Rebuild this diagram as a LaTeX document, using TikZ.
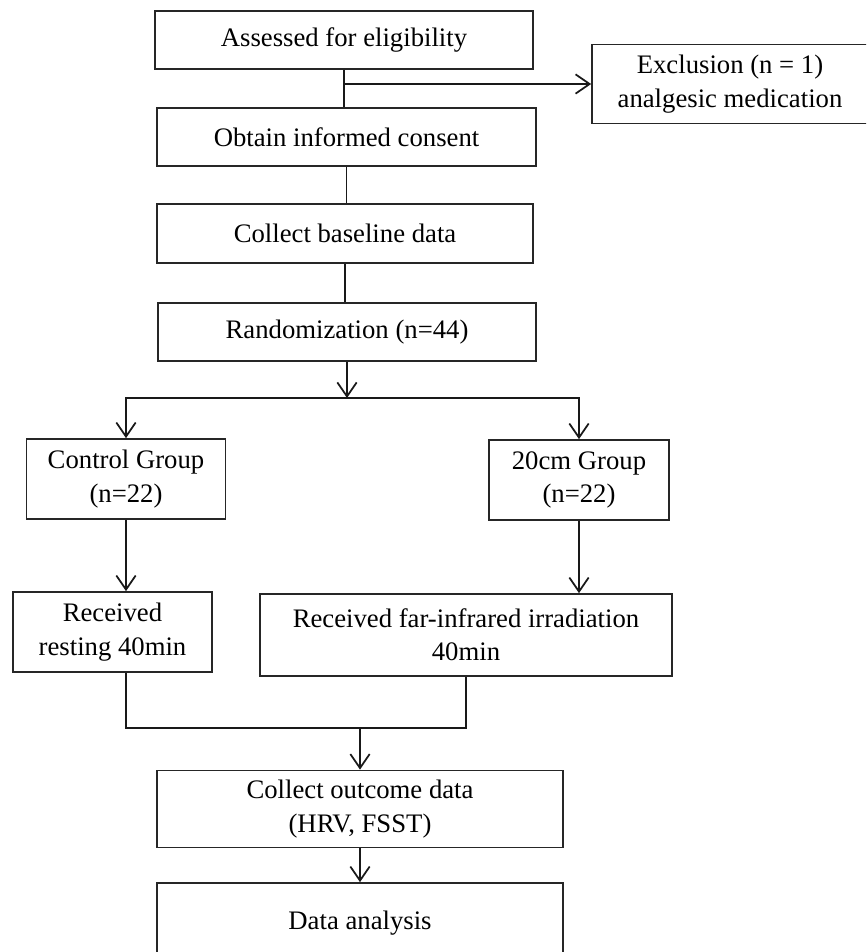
\documentclass[tikz,border=0pt]{standalone}
\usepackage{fontspec}
\setmainfont{Liberation Serif}
\usepackage{tikz}
\usetikzlibrary{arrows.meta, positioning, calc}

\begin{document}
\begin{tikzpicture}[x=0.02cm, y=-0.02cm,
  box/.style={draw=black!85, line width=1pt, rectangle, align=center, font=\fontsize{15.2}{19}\selectfont},
  link/.style={draw=black!90, line width=1pt},
  >={Straight Barb[length=8pt, width=11pt]}]
\clip (0,0) rectangle (866,952);

% Enrolment
\node[box, minimum width=7.56cm, minimum height=1.16cm] (elig) at (344, 40) {Assessed for eligibility};
\node[box, minimum width=5.52cm, minimum height=1.58cm] (excl) at (730, 84) {Exclusion (n = 1)\\analgesic medication};
\node[box, minimum width=7.58cm, minimum height=1.16cm] (consent) at (346.5, 137) {Obtain informed consent};
\node[box, minimum width=7.52cm, minimum height=1.18cm] (base) at (345, 233.5) {Collect baseline data};
\node[box, minimum width=7.56cm, minimum height=1.16cm] (rand) at (347, 332) {Randomization (n=44)};

% Groups
\node[box, minimum width=3.98cm, minimum height=1.6cm] (ctrl) at (126, 479) {Control Group\\(n=22)};
\node[box, minimum width=3.6cm, minimum height=1.6cm] (grp20) at (579, 480) {20cm Group\\(n=22)};
\node[box, minimum width=3.98cm, minimum height=1.6cm] (rest) at (112.5, 632) {Received\\resting 40min};
\node[box, minimum width=8.24cm, minimum height=1.64cm] (fir) at (466, 635) {Received far-infrared irradiation\\40min};

% Outcome
\node[box, minimum width=8.12cm, minimum height=1.54cm] (outc) at (360, 809) {Collect outcome data\\(HRV, FSST)};
\node[box, minimum width=8.12cm, minimum height=2.28cm, text depth=2.2em] (anal) at (360, 940) {Data analysis};

\coordinate (split) at (rand.south |- 0, 398);
\coordinate (merge) at (outc.north |- 0, 728);

% Connectors
\draw[link] (elig.south) -- (elig.south |- consent.north);
\draw[link, ->] (elig.south |- excl.west) -- (excl.west);
\draw[link] (consent.south) -- (consent.south |- base.north);
\draw[link] (base.south) -- (base.south |- rand.north);
\draw[link, ->] (rand.south) -- (split);
\draw[link, ->] (split) -| (ctrl.north);
\draw[link, ->] (split) -| (grp20.north);
\draw[link, ->] (ctrl.south) -- (ctrl.south |- rest.north);
\draw[link, ->] (grp20.south) -- (grp20.south |- fir.north);
\draw[link] (ctrl.south |- rest.south) -- (ctrl.south |- merge) -| (fir.south);
\draw[link, ->] (merge) -- (outc.north);
\draw[link, ->] (outc.south) -- (anal.north);
\end{tikzpicture}
\end{document}
